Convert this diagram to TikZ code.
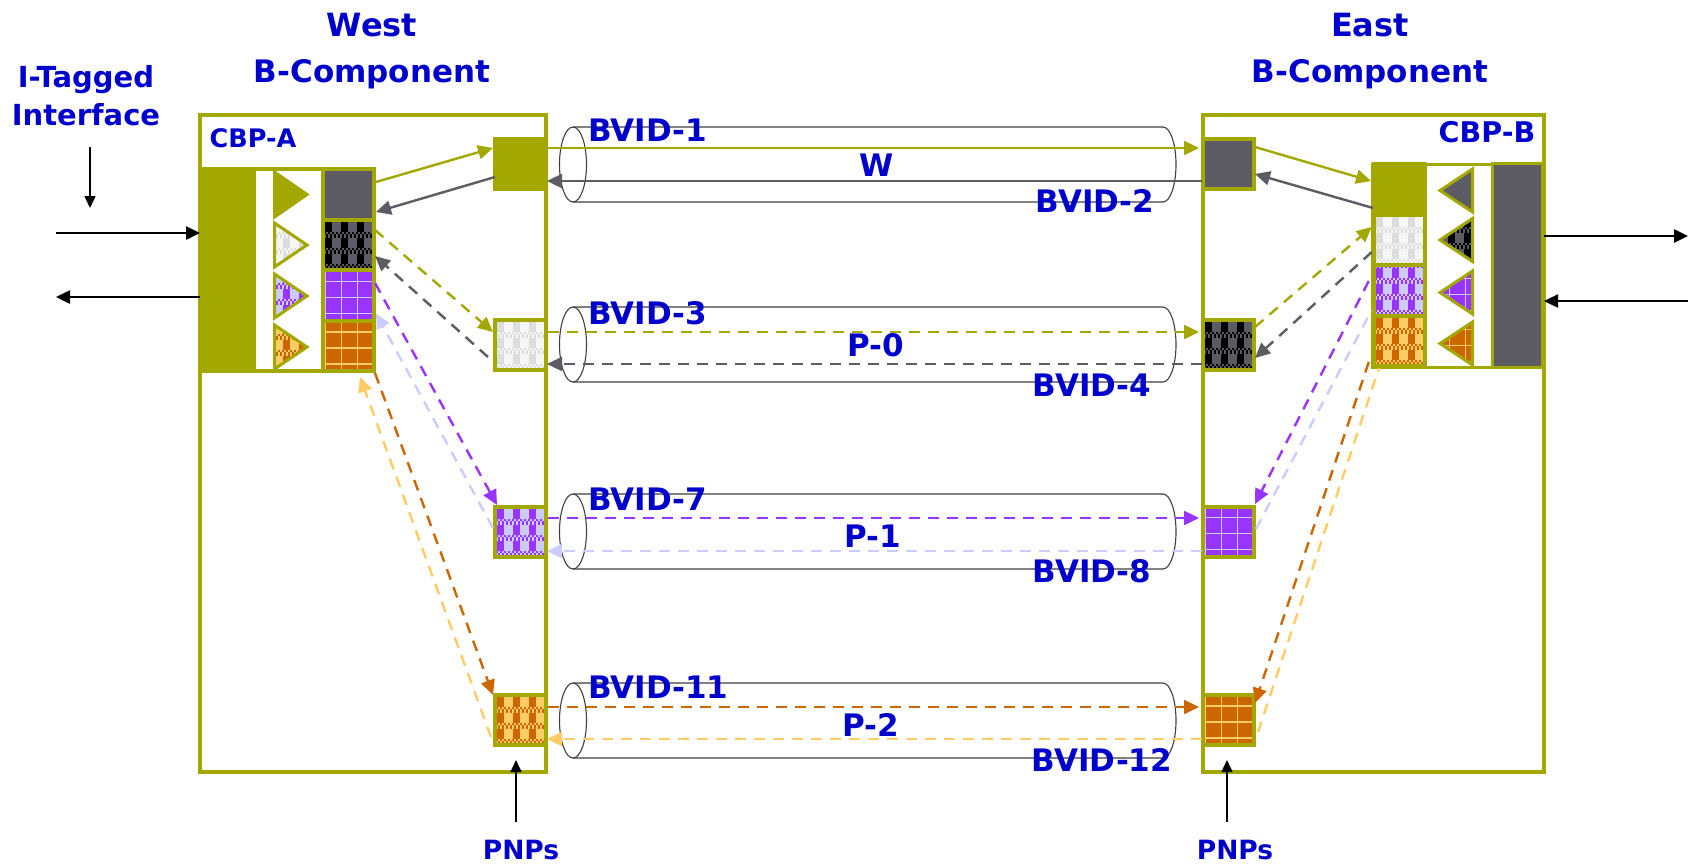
\documentclass[tikz,border=0pt]{standalone}
\usepackage{fontspec}
\setmainfont{DejaVu Sans}[BoldFont={DejaVu Sans Bold}]
\usetikzlibrary{arrows.meta}
\definecolor{olv}{HTML}{A3A800}
\definecolor{gry}{HTML}{5D5C64}
\definecolor{blk}{HTML}{000000}
\definecolor{pur}{HTML}{9933FF}
\definecolor{lpu}{HTML}{CCCCFF}
\definecolor{org}{HTML}{CC6600}
\definecolor{lor}{HTML}{FFCC66}
\definecolor{lgA}{HTML}{DDDDDD}
\definecolor{lgB}{HTML}{F6F6F6}
\definecolor{txt}{HTML}{0000CC}
% checked pattern with dithered bands (origin at the centre of the shape)
\newcommand\chk[2]{\begin{scope}[shift={(path picture bounding box.center)}]
 \fill[#2] (-45,-45) rectangle (45,45);
 \foreach \r in {-3,-2,-1,0,1,2}{
  \foreach \c in {-3,-2,-1,0,1,2,3}{\fill[#1] (\c*16-8,\r*16+9) rectangle (\c*16-1,\r*16+19);}
  \draw[#1,line width=2pt,dash pattern=on 2pt off 2pt] (-45,\r*16+4) -- (45,\r*16+4);
  \draw[#1,line width=2pt,dash pattern=on 2pt off 2pt,dash phase=2pt] (-45,\r*16+6) -- (45,\r*16+6);
  \draw[#1,line width=2pt,dash pattern=on 2pt off 2pt,dash phase=2pt] (-45,\r*16+8) -- (45,\r*16+8);
 }
\end{scope}}
% grid pattern
\newcommand\grd[2]{\begin{scope}[shift={(path picture bounding box.center)}]
 \fill[#1] (-45,-45) rectangle (45,45);
 \foreach \c in {-3,-2,-1,0,1,2}{
  \draw[#2,line width=1.5pt] (\c*16+9,-45) -- (\c*16+9,45);
  \draw[#2,line width=1.5pt] (-45,\c*16+2) -- (45,\c*16+2);
 }
\end{scope}}
\tikzset{
 x=1pt,y=-1pt,
 bbox/.style={draw=olv,line width=4pt,fill=white,inner sep=0pt,outer sep=0pt},
 pnp/.style={draw=olv,line width=4pt,inner sep=0pt,outer sep=0pt,minimum width=51pt,minimum height=50pt},
 wcell/.style={pnp,minimum width=51pt,minimum height=50.5pt},
 ecell/.style={pnp,minimum width=51.5pt,minimum height=50.5pt},
 tri/.style={draw=olv,line width=3pt,line join=miter},
 lbl/.style={text=txt,font=\bfseries\fontsize{31}{36}\selectfont,inner sep=0pt},
 lblb/.style={text=txt,font=\bfseries\fontsize{32}{36}\selectfont,inner sep=0pt},
 lblc/.style={text=txt,font=\bfseries\fontsize{31}{36}\selectfont,inner sep=0pt},
 lblm/.style={text=txt,font=\bfseries\fontsize{26.5}{30}\selectfont,inner sep=0pt},
 lbla/.style={text=txt,font=\bfseries\fontsize{25.5}{30}\selectfont,inner sep=0pt},
 lble/.style={text=txt,font=\bfseries\fontsize{28.5}{30}\selectfont,inner sep=0pt},
 lbls/.style={text=txt,font=\bfseries\fontsize{29}{38}\selectfont,inner sep=0pt,align=center},
 cyl/.style={draw=black!75,line width=1.1pt},
 thn/.style={line width=2.4pt},
 con/.style={thn,-{Triangle[length=15pt,width=14pt]}},
 dsh/.style={con,dash pattern=on 11pt off 8pt},
 dshn/.style={thn,dash pattern=on 11pt off 8pt},
 ext/.style={draw=black,line width=2.5pt,-{Triangle[length=14pt,width=13pt]}},
 ext2/.style={draw=black,line width=1.5pt,-{Triangle[length=12pt,width=11pt]}},
}
\begin{document}
\begin{tikzpicture}
\useasboundingbox (0,0) rectangle (1691,865);
\fill[white] (0,0) rectangle (1691,865);

% outer boxes
\node[bbox,minimum width=346pt,minimum height=657pt] (wb) at (373,443.5) {};
\node[bbox,minimum width=341pt,minimum height=657pt] (eb) at (1373.5,443.5) {};

% cylinders
\foreach \t in {127,307,494,683}{
 \draw[cyl] (573,\t+37.5) ellipse [x radius=13.5pt,y radius=37.5pt];
 \draw[cyl] (573,\t) -- (1163,\t) arc [start angle=90,end angle=-90,x radius=13pt,y radius=37.5pt] -- (573,\t+75);
}

% West CBP frame
\fill[olv] (198,167) rectangle (376,373);
\fill[white] (256,171) rectangle (321,369);

% West triangles
\draw[tri,fill=olv] (274.5,172) -- (307,194.5) -- (274.5,217) -- cycle;
\draw[tri,path picture={\chk{lgA}{lgB}}] (274.5,223) -- (307,245) -- (274.5,267) -- cycle;
\draw[tri,path picture={\chk{pur}{lpu}}] (274.5,274) -- (307,296) -- (274.5,318) -- cycle;
\draw[tri,path picture={\chk{org}{lor}}] (274.5,325) -- (307,347) -- (274.5,369) -- cycle;

% West cells
\node[wcell,fill=gry] (wc1) at (348.5,194.5) {};
\node[wcell,path picture={\chk{blk}{gry}}] (wc2) at (348.5,245) {};
\node[wcell,path picture={\grd{pur}{lpu}}] (wc3) at (348.5,295.5) {};
\node[wcell,path picture={\grd{org}{lor}}] (wc4) at (348.5,346) {};

% West PNPs
\node[pnp,fill=olv] (w1) at (520.5,164) {};
\node[pnp,path picture={\chk{lgA}{lgB}}] (w2) at (520.5,345) {};
\node[pnp,path picture={\chk{pur}{lpu}}] (w3) at (520.5,531.5) {};
\node[pnp,path picture={\chk{org}{lor}}] (w4) at (520.5,720) {};

% East CBP frame
\fill[olv] (1371,163) rectangle (1546,369);
\fill[white] (1427,166) rectangle (1491,366);
\node[draw=olv,line width=3pt,fill=gry,inner sep=0pt,outer sep=0pt,minimum width=50pt,minimum height=204pt] (ebar) at (1517.5,265.5) {};

% East triangles
\draw[tri,fill=gry] (1472.5,169) -- (1440,190.5) -- (1472.5,212) -- cycle;
\draw[tri,path picture={\chk{blk}{gry}}] (1472.5,218.5) -- (1440,240) -- (1472.5,261.5) -- cycle;
\draw[tri,path picture={\grd{pur}{lpu}}] (1472.5,271) -- (1440,292.5) -- (1472.5,314) -- cycle;
\draw[tri,path picture={\grd{org}{lor}}] (1472.5,322) -- (1440,343.5) -- (1472.5,365) -- cycle;

% East cells
\node[ecell,fill=olv] (ec1) at (1399.5,189.5) {};
\node[ecell,path picture={\chk{lgA}{lgB}}] (ec2) at (1399.5,240) {};
\node[ecell,path picture={\chk{pur}{lpu}}] (ec3) at (1399.5,290.5) {};
\node[ecell,path picture={\chk{org}{lor}}] (ec4) at (1399.5,341) {};

% East PNPs
\node[pnp,fill=gry] (e1) at (1228.5,164) {};
\node[pnp,path picture={\chk{blk}{gry}}] (e2) at (1228.5,345) {};
\node[pnp,path picture={\grd{pur}{lpu}}] (e3) at (1228.5,531.5) {};
\node[pnp,path picture={\grd{org}{lor}}] (e4) at (1228.5,720) {};

% Horizontal connectors
\draw[con,olv] ([shift={(2,-16)}]w1.east) -- ([shift={(-4,-16)}]e1.west);
\draw[con,gry] ([shift={(-1,17)}]e1.west) -- ([shift={(1,17)}]w1.east);
\draw[dsh,olv] ([shift={(2,-13)}]w2.east) -- ([shift={(-4,-13)}]e2.west);
\draw[dsh,gry] ([shift={(-1,19)}]e2.west) -- ([shift={(1,19)}]w2.east);
\draw[dsh,pur] ([shift={(2,-13.5)}]w3.east) -- ([shift={(-4,-13.5)}]e3.west);
\draw[dsh,lpu] ([shift={(-1,19.5)}]e3.west) -- ([shift={(1,19.5)}]w3.east);
\draw[dsh,org] ([shift={(2,-13)}]w4.east) -- ([shift={(-4,-13)}]e4.west);
\draw[dsh,lor] ([shift={(-1,19)}]e4.west) -- ([shift={(1,19)}]w4.east);

% West diagonals
\draw[con,olv] ([shift={(2,-12.5)}]wc1.east) -- ([shift={(-2,-16)}]w1.west);
\draw[con,gry] ([shift={(0,13)}]w1.west) -- ([shift={(2,17.5)}]wc1.east);
\draw[dsh,olv] ([shift={(1,-15)}]wc2.east) -- ([shift={(-2,-13)}]w2.west);
\draw[dsh,gry] ([shift={(-7,12)}]w2.west) -- ([shift={(1,11)}]wc2.east);
\draw[dsh,pur] ([shift={(1,-12.5)}]wc3.east) -- ([shift={(2,-1.5)}]w3.north west);
\draw[dsh,lpu] ([shift={(-2,-3.5)}]w3.west) -- ([shift={(2,18)}]wc3.east);
\draw[dsh,org] ([shift={(1,27)}]wc4.east) -- ([shift={(-2,-25)}]w4.west);
\draw[dsh,lor] ([shift={(-4,17)}]w4.west) -- ([shift={(-14,31)}]wc4.east);

% East diagonals
\draw[con,olv] ([shift={(1,-17)}]e1.east) -- ([shift={(-2.75,-8.5)}]ec1.west);
\draw[con,gry] ([shift={(-0.75,18.5)}]ec1.west) -- ([shift={(1,10)}]e1.east);
\draw[dsh,olv] ([shift={(1,-18)}]e2.east) -- ([shift={(-2,-13)}]ec2.west);
\draw[dsh,gry] ([shift={(-2,12)}]ec2.west) -- ([shift={(1,13)}]e2.east);
\draw[dsh,pur] ([shift={(-5,-9.5)}]ec3.west) -- ([shift={(1,-27.5)}]e3.east);
\draw[dshn,lpu] ([shift={(2,-2.5)}]e3.east) -- ([shift={(-2,19.5)}]ec3.west);
\draw[dsh,org] ([shift={(-5,21)}]ec4.west) -- ([shift={(1,-17)}]e4.east);
\draw[dshn,lor] ([shift={(4,12)}]e4.east) -- ([shift={(5.25,27)}]ec4.west);

% Text
\node[lblb] (t1) at (372,25) {West};
\node[lblc] (t2) at (372,74) {B-Component};
\node[lblb] (t3) at (1370,25) {East};
\node[lblc] (t4) at (1370,74) {B-Component};
\node[lbls] (itag) at (86,96) {I-Tagged\\Interface};
\node[lbla] (cbpa) at (253,138) {CBP-A};
\node[lble] (cbpb) at (1487,132) {CBP-B};
\node[lbl,anchor=west] (b1) at (588,130) {BVID-1};
\node[lbl] (b2) at (1095,201) {BVID-2};
\node[lbl,anchor=west] (b3) at (588,313) {BVID-3};
\node[lbl] (b4) at (1092,385) {BVID-4};
\node[lbl,anchor=west] (b7) at (588,499) {BVID-7};
\node[lbl] (b8) at (1092,571) {BVID-8};
\node[lbl,anchor=west] (b11) at (588,687) {BVID-11};
\node[lbl] (b12) at (1102,760) {BVID-12};
\node[lbl] (pw) at (877,165) {W};
\node[lbl] (p0) at (876,345) {P-0};
\node[lbl] (p1) at (873,536) {P-1};
\node[lbl] (p2) at (871,725) {P-2};
\node[lblm] (pnw) at (521,850) {PNPs};
\node[lblm] (pne) at (1235,850) {PNPs};

% External arrows
\coordinate (ia) at (90,147);
\coordinate (ib) at (90,208);
\coordinate (la) at (56,233);
\coordinate (lb) at (56,297);
\coordinate (ra) at (1688,236);
\coordinate (rb) at (1688,301);
\coordinate (pa) at (516,822);
\coordinate (pb) at (516,760);
\coordinate (qa) at (1227,822);
\coordinate (qb) at (1227,760);
\draw[ext2] (ia) -- (ib);
\draw[ext] (la) -- (la -| wb.west);
\draw[ext] (lb -| wb.west) -- (lb);
\draw[ext] (ra -| eb.east) -- (ra);
\draw[ext] (rb) -- (rb -| eb.east);
\draw[ext2] (pa) -- (pb);
\draw[ext2] (qa) -- (qb);
\end{tikzpicture}
\end{document}
